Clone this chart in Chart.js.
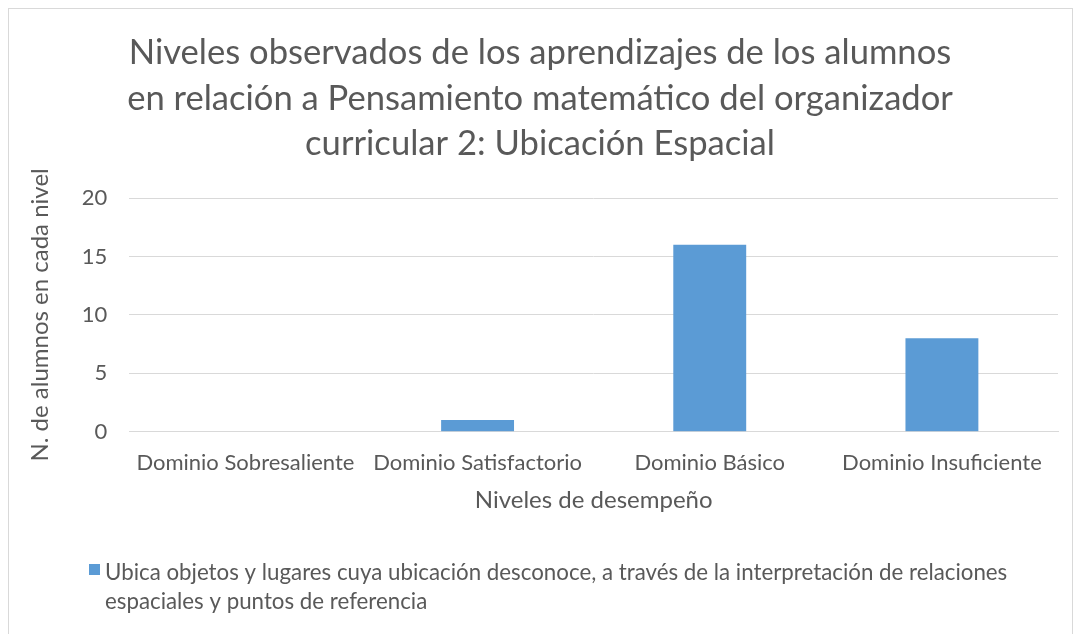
<!DOCTYPE html>
<html>
<head>
<meta charset="utf-8">
<script src="https://cdn.jsdelivr.net/npm/chart.js@4"></script>
<style>
  html, body { margin: 0; padding: 0; background: #fff; }
  #wrap { position: relative; width: 1078px; height: 634px; }
  #marco { position: absolute; left: 8px; top: 8px; width: 1063px; height: 640px; border: 1px solid #d9d9d9; pointer-events: none; }
</style>
</head>
<body>
<div id="wrap">
  <canvas id="grafico" width="1078" height="634"></canvas>
  <div id="marco"></div>
</div>
<script>
const NIVELES = ['Dominio Sobresaliente', 'Dominio Satisfactorio', 'Dominio Básico', 'Dominio Insuficiente'];
const ALUMNOS = [0, 1, 16, 8];
const TICKS_Y = [0, 5, 10, 15, 20];
const SERIE = 'Ubica objetos y lugares cuya ubicación desconoce, a través de la interpretación de relaciones espaciales y puntos de referencia';
const TITULO = [
  'Niveles observados de los aprendizajes de los alumnos',
  'en relación a Pensamiento matemático del organizador',
  'curricular 2: Ubicación Espacial',
];

const GRIS = '#595959';
const AZUL = '#5b9bd5';
const FUENTE = 'Lato, "Open Sans", sans-serif';

// la leyenda de Chart.js no va a capo: la dibujamos a mano
const leyendaPlugin = {
  id: 'leyendaManual',
  afterDraw(chart) {
    const ctx = chart.ctx;
    const ds = chart.data.datasets[0];
    ctx.save();
    ctx.fillStyle = ds.backgroundColor;
    ctx.fillRect(89, 564, 11, 11);
    ctx.fillStyle = GRIS;
    ctx.font = '22.3px ' + FUENTE;
    ctx.textBaseline = 'middle';
    const maxW = 920;
    const palabras = ds.label.split(' ');
    const righe = [];
    let riga = '';
    palabras.forEach((p) => {
      const prova = riga ? riga + ' ' + p : p;
      if (ctx.measureText(prova).width > maxW && riga) { righe.push(riga); riga = p; }
      else riga = prova;
    });
    if (riga) righe.push(riga);
    righe.forEach((r, i) => ctx.fillText(r, 105, 573 + i * 29));
    ctx.restore();
  },
};

new Chart(document.getElementById('grafico'), {
  type: 'bar',
  data: {
    labels: NIVELES,
    datasets: [{
      label: SERIE,
      data: ALUMNOS,
      backgroundColor: AZUL,
      categoryPercentage: 1,
      barPercentage: 0.314,
    }],
  },
  options: {
    responsive: false,
    animation: false,
    layout: { padding: { left: 22, right: 20, top: 30, bottom: 115 } },
    scales: {
      x: {
        grid: { display: false },
        border: { color: '#d9d9d9' },
        ticks: { color: GRIS, font: { size: 22, family: FUENTE }, padding: 10, maxRotation: 0 },
        title: { display: true, text: 'Niveles de desempeño', color: GRIS, font: { size: 24, family: FUENTE }, padding: { top: 0 } },
      },
      y: {
        min: 0, max: 20,
        afterBuildTicks: (axis) => { axis.ticks = TICKS_Y.map((v) => ({ value: v })); },
        grid: { color: '#d9d9d9', drawTicks: false },
        border: { display: false },
        ticks: { color: GRIS, font: { size: 22, family: FUENTE }, padding: 22 },
        title: { display: true, text: 'N. de alumnos en cada nivel', color: GRIS, font: { size: 24, family: FUENTE }, padding: { bottom: 5 } },
      },
    },
    plugins: {
      legend: { display: false },
      tooltip: { enabled: false },
      title: {
        display: true,
        text: TITULO,
        color: GRIS,
        font: { size: 34.6, family: FUENTE, weight: 'normal', lineHeight: 1.32 },
        padding: { top: 0, bottom: 31 },
      },
    },
  },
  plugins: [leyendaPlugin],
});
</script>
</body>
</html>
